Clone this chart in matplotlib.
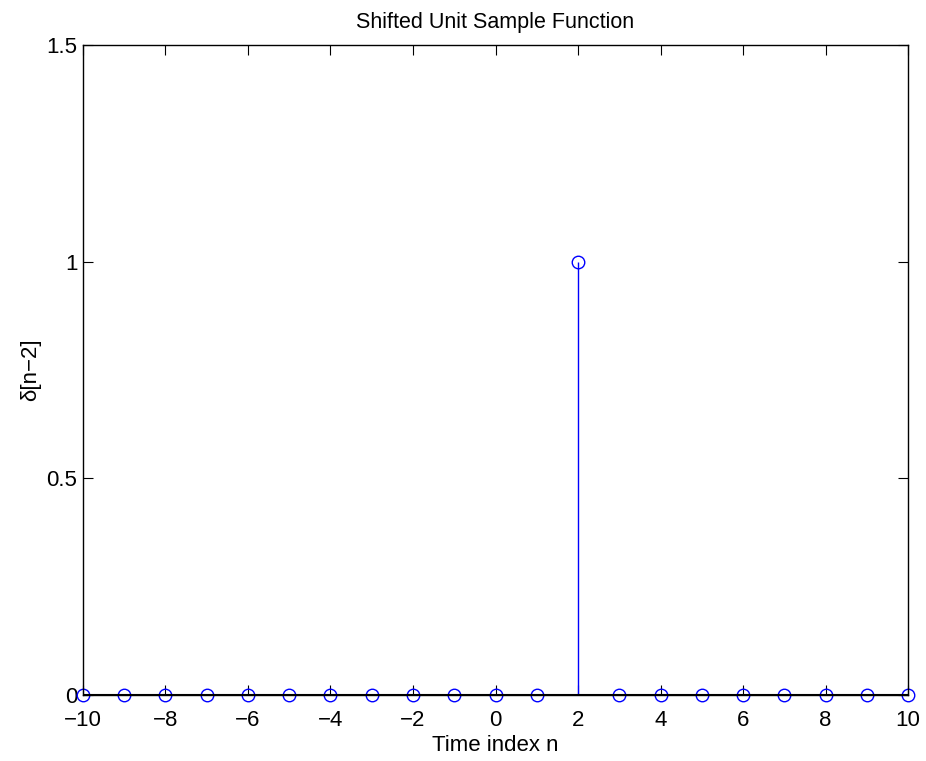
import numpy as np
import matplotlib.pyplot as plt

plt.rcParams['font.family'] = ['Liberation Sans', 'DejaVu Sans']

n = [-10, -9, -8, -7, -6, -5, -4, -3, -2, -1, 0, 1, 2, 3, 4, 5, 6, 7, 8, 9, 10]
delta = [0, 0, 0, 0, 0, 0, 0, 0, 0, 0, 0, 0, 1, 0, 0, 0, 0, 0, 0, 0, 0]
xticks = [-10, -8, -6, -4, -2, 0, 2, 4, 6, 8, 10]
yticks = [0, 0.5, 1, 1.5]
ytick_labels = ['0', '0.5', '1', '1.5']

fig = plt.figure(figsize=(9.26, 7.61), dpi=100)
ax = fig.add_axes([0.0896, 0.0867, 0.8910, 0.8542])

markerline, stemlines, baseline = ax.stem(n, delta, linefmt='b-', markerfmt='bo', basefmt='k-')
markerline.set_markerfacecolor('none')
markerline.set_markersize(9)
markerline.set_markeredgewidth(1.0)
markerline.set_clip_on(False)
stemlines.set_linewidth(1.0)
baseline.set_linewidth(1.5)
baseline.set_zorder(3)

ax.set_xlim(-10, 10)
ax.set_ylim(0, 1.5)
ax.set_xticks(xticks)
ax.set_xticklabels([str(t).replace('-', '\u2212') for t in xticks])
ax.set_yticks(yticks)
ax.set_yticklabels(ytick_labels)
ax.tick_params(direction='in', top=True, right=True, length=7, labelsize=16)
ax.tick_params(axis='x', pad=11)
ax.tick_params(axis='y', pad=4)
for s in ax.spines.values():
    s.set_linewidth(1.0)

ax.set_title('Shifted Unit Sample Function', fontsize=15.5, pad=12)
ax.set_xlabel('Time index n', fontsize=16, labelpad=3)
ax.set_ylabel('\u03b4[n\u22122]', fontsize=16, labelpad=4)

fig.savefig('out.png', dpi=100)
